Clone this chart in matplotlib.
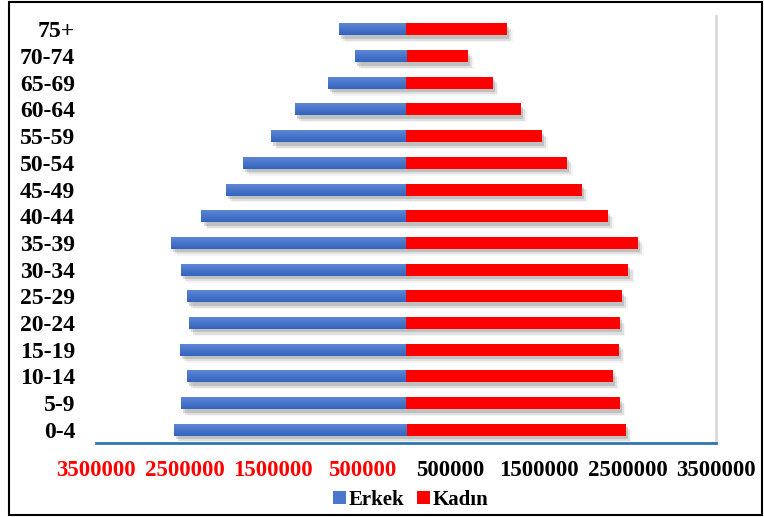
import numpy as np
import matplotlib
matplotlib.use("Agg")
import matplotlib.pyplot as plt
import matplotlib.patheffects as pe
from matplotlib.patches import Rectangle

# Age groups (bottom to top) and population counts
age_groups = ["0-4", "5-9", "10-14", "15-19", "20-24", "25-29", "30-34", "35-39",
              "40-44", "45-49", "50-54", "55-59", "60-64", "65-69", "70-74", "75+"]
erkek = [2620000, 2540000, 2470000, 2550000, 2450000, 2470000, 2540000, 2650000,
         2310000, 2030000, 1840000, 1520000, 1250000, 880000, 576000, 756000]
kadin = [2480000, 2415000, 2340000, 2400000, 2415000, 2440000, 2510000, 2620000,
         2280000, 1990000, 1820000, 1535000, 1300000, 980000, 700000, 1140000]

tick_values = [-3500000, -2500000, -1500000, -500000, 500000, 1500000, 2500000, 3500000]

BLUE = "#4a76cc"
RED = "#ff0000"

plt.rcParams["font.family"] = ["Liberation Serif", "DejaVu Serif"]
plt.rcParams["font.weight"] = "bold"

fig = plt.figure(figsize=(7.64, 5.17), dpi=100)
ax = fig.add_axes([0.1257, 0.143, 0.8115, 0.826])

y = np.arange(len(age_groups))
shadow = [pe.SimplePatchShadow(offset=(1.5, -2.5), shadow_rgbFace="0.3", alpha=0.22),
          pe.SimplePatchShadow(offset=(3, -4), shadow_rgbFace="0.4", alpha=0.15),
          pe.SimplePatchShadow(offset=(4, -5), shadow_rgbFace="0.5", alpha=0.08),
          pe.Normal()]

blue_bars = ax.barh(y, -np.array(erkek), height=0.45, color=BLUE, label="Erkek",
                    zorder=3, path_effects=shadow)
red_bars = ax.barh(y, kadin, height=0.45, color=RED, label="Kadın",
                   zorder=3, path_effects=shadow)

# vertical gradient on the blue bars
grad = np.linspace(0, 1, 64).reshape(-1, 1)
cmap = matplotlib.colors.LinearSegmentedColormap.from_list("g", ["#6189d4", "#3363bf"])
for bar in blue_bars:
    x0, y0 = bar.get_x(), bar.get_y()
    w, h = bar.get_width(), bar.get_height()
    im = ax.imshow(grad, cmap=cmap, aspect="auto", origin="upper",
                   extent=(x0, x0 + w, y0, y0 + h), zorder=4)
    im.set_clip_path(bar)

ax.set_xlim(-3500000, 3500000)
ax.set_ylim(-0.5, len(age_groups) - 0.5)

ax.set_yticks(y)
ax.set_yticklabels(age_groups, fontsize=17, fontweight="bold")
ax.set_xticks(tick_values)
ax.set_xticklabels([f"{abs(v)}" for v in tick_values], fontsize=16.5, fontweight="bold")
for lbl, v in zip(ax.get_xticklabels(), tick_values):
    lbl.set_color(RED if v < 0 else "black")
ax.tick_params(axis="y", length=0, pad=15)
ax.tick_params(axis="x", length=0, pad=12)

for side in ("left", "top"):
    ax.spines[side].set_visible(False)
ax.spines["bottom"].set_color("#2e75b6")
ax.spines["bottom"].set_linewidth(2)
ax.spines["right"].set_color("#d9d9d9")
ax.spines["right"].set_linewidth(2)

leg = fig.legend(handles=[blue_bars, red_bars], loc="center",
                 bbox_to_anchor=(0.538, 0.033), ncol=2, frameon=False,
                 prop={"size": 15, "weight": "bold"}, handlelength=0.6,
                 handleheight=0.6, handletextpad=0.15, columnspacing=0.6)
for h in leg.legend_handles:
    h.set_path_effects([])

# outer frame
fig.patches.append(Rectangle((0.012, 0.004), 0.985, 0.992, transform=fig.transFigure,
                             fill=False, edgecolor="black", linewidth=1.5))

fig.savefig("out.png", dpi=100)
